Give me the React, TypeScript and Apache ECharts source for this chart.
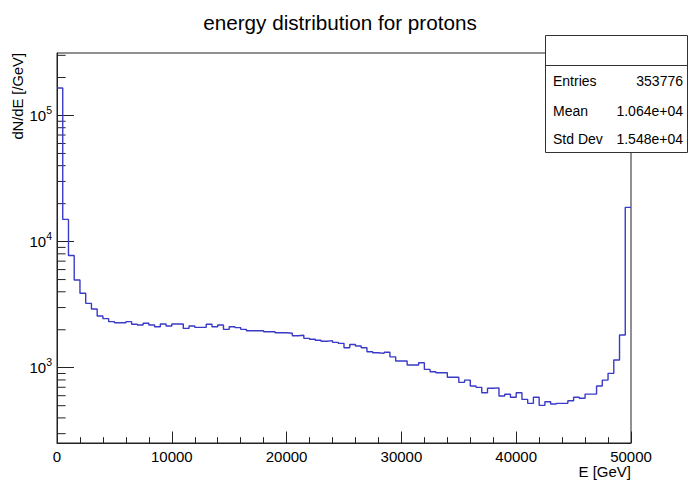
import React, { useEffect, useRef } from 'react';
import * as echarts from 'echarts';

const FONT = '"Liberation Sans", Arial, Helvetica, sans-serif';

const chartTitle = 'energy distribution for protons';
const xTitle = 'E [GeV]';
const yTitle = 'dN/dE [/GeV]';

const binLow = 0;
const binWidth = 500;
const counts = [
  165000, 15000, 7760, 4960, 3890, 3240, 2920, 2570, 2450, 2320,
  2275, 2275, 2320, 2210, 2180, 2250, 2180, 2115, 2220, 2140,
  2220, 2220, 2050, 2140, 2090, 2090, 2210, 2115, 2180, 2015,
  2115, 2080, 2015, 1965, 1965, 1965, 1930, 1930, 1895, 1895,
  1875, 1795, 1810, 1710, 1680, 1650, 1620, 1640, 1590, 1560,
  1440, 1530, 1485, 1440, 1340, 1315, 1300, 1325, 1220, 1130,
  1130, 1050, 1050, 1095, 970, 930, 912, 912, 840, 840,
  766, 798, 716, 699, 634, 687, 692, 597, 616, 583,
  634, 561, 522, 583, 503, 537, 515, 522, 522, 547,
  583, 572, 618, 618, 716, 798, 902, 1151, 1816, 18700,
];

const xMin = 0;
const xMax = 50000;
const xStep = 10000;
const yMin = 253;
const yMax = 313000;
const yMajorExponents = [3, 4, 5];
const yMinorTicks = [
  300, 400, 500, 600, 700, 800, 900,
  2000, 3000, 4000, 5000, 6000, 7000, 8000, 9000,
  20000, 30000, 40000, 50000, 60000, 70000, 80000, 90000,
  200000, 300000,
];

const statsLabels = ['Entries', 'Mean', 'Std Dev'];
const statsValues = ['353776', '1.064e+04', '1.548e+04'];

export default function App() {
  const ref = useRef<HTMLDivElement>(null);
  useEffect(() => {
    const chart = echarts.init(ref.current!, null, { renderer: 'svg' });

    const stepData: number[][] = counts.map((c, i) => [binLow + i * binWidth, c]);
    stepData.push([binLow + counts.length * binWidth, counts[counts.length - 1]]);

    const statsY = [80.7, 110.5, 139];
    const statsGraphics: any[] = [];
    statsLabels.forEach((lab, i) => {
      statsGraphics.push({
        type: 'text', x: 553, y: statsY[i], z: 101,
        style: { text: lab, fontSize: 14, fontFamily: FONT, fill: '#000', align: 'left', verticalAlign: 'middle' },
      });
      statsGraphics.push({
        type: 'text', x: 683, y: statsY[i], z: 101,
        style: { text: statsValues[i], fontSize: 14, fontFamily: FONT, fill: '#000', align: 'right', verticalAlign: 'middle' },
      });
    });

    const option: any = {
      animation: false,
      backgroundColor: '#fff',
      grid: {
        left: 57, right: 57, top: 53, bottom: 38,
        show: true, borderColor: '#222', borderWidth: 1, backgroundColor: 'transparent',
      },
      xAxis: {
        type: 'value',
        min: xMin, max: xMax, interval: xStep,
        axisLine: { show: true, lineStyle: { color: '#222', width: 1 } },
        axisTick: { show: true, inside: true, length: 11.5, lineStyle: { color: '#222' } },
        minorTick: { show: true, splitNumber: 5, length: 5.8, lineStyle: { color: '#222' } },
        splitLine: { show: false },
        axisLabel: {
          margin: 6, fontSize: 15, fontFamily: FONT, color: '#000',
          formatter: (v: number) => String(v),
        },
      },
      yAxis: {
        type: 'log', logBase: 10,
        min: yMin, max: yMax,
        axisLine: { show: true, lineStyle: { color: '#222', width: 1 } },
        axisTick: { show: true, inside: true, length: 17, lineStyle: { color: '#222' } },
        splitLine: { show: false },
        axisLabel: {
          margin: 5,
          showMinLabel: false, showMaxLabel: false,
          formatter: (v: number) => {
            const e = Math.log10(v);
            const r = Math.round(e);
            if (Math.abs(e - r) < 1e-6 && yMajorExponents.includes(r)) return `{b|10}{s|${r}}`;
            return '';
          },
          rich: {
            b: { fontSize: 15, fontFamily: FONT, color: '#000', lineHeight: 22 },
            s: { fontSize: 10.5, fontFamily: FONT, color: '#000', lineHeight: 11, verticalAlign: 'top' },
          },
        },
      },
      series: [
        {
          type: 'line',
          step: 'end',
          data: stepData,
          showSymbol: false,
          symbol: 'none',
          silent: true,
          lineStyle: { color: '#3a3ac8', width: 1.4 },
          itemStyle: { color: '#3a3ac8' },
          clip: true,
        },
        {
          type: 'custom',
          silent: true,
          clip: false,
          data: yMinorTicks.map((v) => [xMin, v]),
          encode: { x: 0, y: 1 },
          renderItem: (params: any, api: any) => {
            const p = api.coord([api.value(0), api.value(1)]);
            return {
              type: 'line',
              shape: { x1: p[0], y1: p[1], x2: p[0] + 8.6, y2: p[1] },
              style: { stroke: '#222', lineWidth: 1 },
            };
          },
        },
      ],
      graphic: [
        {
          type: 'text', x: 340, y: 22, z: 100,
          style: { text: chartTitle, fontSize: 20.7, fontFamily: FONT, fill: '#000', align: 'center', verticalAlign: 'middle' },
        },
        {
          type: 'text', x: 17.5, y: 53, rotation: Math.PI / 2, z: 100,
          style: { text: yTitle, fontSize: 14.7, fontFamily: FONT, fill: '#000', align: 'right', verticalAlign: 'middle' },
        },
        {
          type: 'text', x: 631, y: 471, z: 100,
          style: { text: xTitle, fontSize: 15, fontFamily: FONT, fill: '#000', align: 'right', verticalAlign: 'middle' },
        },
        {
          type: 'rect', z: 100,
          shape: { x: 545.5, y: 35.5, width: 142, height: 117 },
          style: { fill: '#fff', stroke: '#333', lineWidth: 1 },
        },
        {
          type: 'line', z: 101,
          shape: { x1: 545.5, y1: 65.5, x2: 687.5, y2: 65.5 },
          style: { stroke: '#333', lineWidth: 1 },
        },
        ...statsGraphics,
      ],
    };

    chart.setOption(option);
    return () => chart.dispose();
  }, []);

  return (
    <div
      ref={ref}
      style={{ position: 'absolute', left: 0, top: 0, width: 688, height: 481 }}
    />
  );
}
